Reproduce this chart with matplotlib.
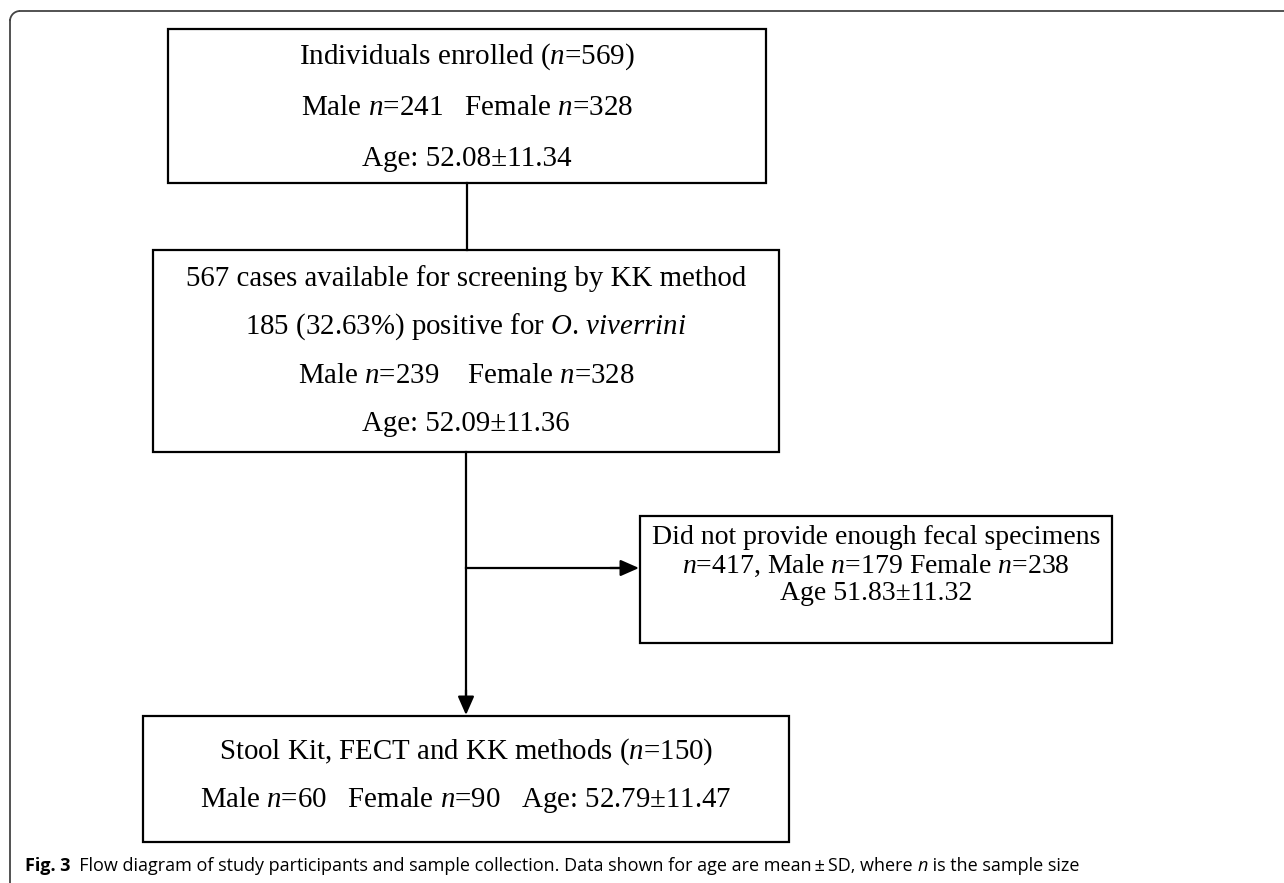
import matplotlib
matplotlib.use("Agg")
import matplotlib.pyplot as plt
from matplotlib.patches import Rectangle, Arc

plt.rcParams['font.family'] = ['Liberation Serif', 'DejaVu Serif']
plt.rcParams['mathtext.fontset'] = 'custom'
plt.rcParams['mathtext.rm'] = 'Liberation Serif'
plt.rcParams['mathtext.it'] = 'Liberation Serif:italic'

# text of each box, top to bottom
enrolled_lines = [r"Individuals enrolled ($n$=569)",
                  r"Male $n$=241   Female $n$=328",
                  r"Age: 52.08±11.34"]
screened_lines = [r"567 cases available for screening by KK method",
                  r"185 (32.63%) positive for $O$. $viverrini$",
                  r"Male $n$=239    Female $n$=328",
                  r"Age: 52.09±11.36"]
excluded_lines = [r"Did not provide enough fecal specimens",
                  r"$n$=417, Male $n$=179 Female $n$=238",
                  r"Age 51.83±11.32"]
final_lines = [r"Stool Kit, FECT and KK methods ($n$=150)",
               r"Male $n$=60   Female $n$=90   Age: 52.79±11.47"]
# caption pieces: (text, weight, style)
caption_parts = [("Fig. 3", 'bold', 'normal'),
                 ("  Flow diagram of study participants and sample collection. "
                  "Data shown for age are mean\u2009±\u2009SD, where ", 'normal', 'normal'),
                 ("n", 'normal', 'italic'),
                 (" is the sample size", 'normal', 'normal')]

fig = plt.figure(figsize=(12.84, 8.83), dpi=100)
ax = fig.add_axes([0, 0, 1, 1])
ax.set_xlim(0, 1284)
ax.set_ylim(883, 0)
ax.axis('off')

# outer frame: top and left edges with a rounded corner
frame_col = '#444444'
ax.plot([10, 10], [883, 20], color=frame_col, lw=1.3)
ax.plot([20, 1284], [11, 11], color=frame_col, lw=1.3)
ax.add_patch(Arc((20, 21), 20, 20, theta1=180, theta2=270, color=frame_col, lw=1.3))


def draw_box(x0, y0, x1, y1, lines, ys, size):
    ax.add_patch(Rectangle((x0, y0), x1 - x0, y1 - y0, fill=False,
                           ec='black', lw=1.6))
    cx = (x0 + x1) / 2
    for line, y in zip(lines, ys):
        ax.text(cx, y, line, ha='center', va='center', fontsize=size)


draw_box(168, 29, 766, 183, enrolled_lines, [57, 108, 159], 21)
draw_box(153, 250, 779, 452, screened_lines, [279, 327, 376, 424], 20.8)
draw_box(640, 516, 1112, 643, excluded_lines, [538, 566, 594], 20)
draw_box(143, 716, 789, 842, final_lines, [752, 800], 20.8)

# connectors
ax.plot([467, 467], [183, 250], color='black', lw=1.6)
ax.plot([466, 466], [452, 700], color='black', lw=1.6)
ax.plot([466, 628], [568, 568], color='black', lw=1.6)
arrow = dict(arrowstyle='-|>,head_length=0.75,head_width=0.33', color='black',
             lw=1.6, shrinkA=0, shrinkB=0, mutation_scale=15)
ax.annotate('', xy=(466, 715), xytext=(466, 690), arrowprops=arrow)
ax.annotate('', xy=(639, 568), xytext=(610, 568), arrowprops=arrow)

# caption, written piece by piece
fig.canvas.draw()
renderer = fig.canvas.get_renderer()
x_px = 25
for txt, weight, style in caption_parts:
    t = ax.text(x_px, 866, txt, ha='left', va='center', fontsize=13,
                fontweight=weight, fontstyle=style,
                family=['Open Sans', 'DejaVu Sans'])
    bb = t.get_window_extent(renderer)
    x_px += bb.width

fig.savefig('out.png', dpi=100)
